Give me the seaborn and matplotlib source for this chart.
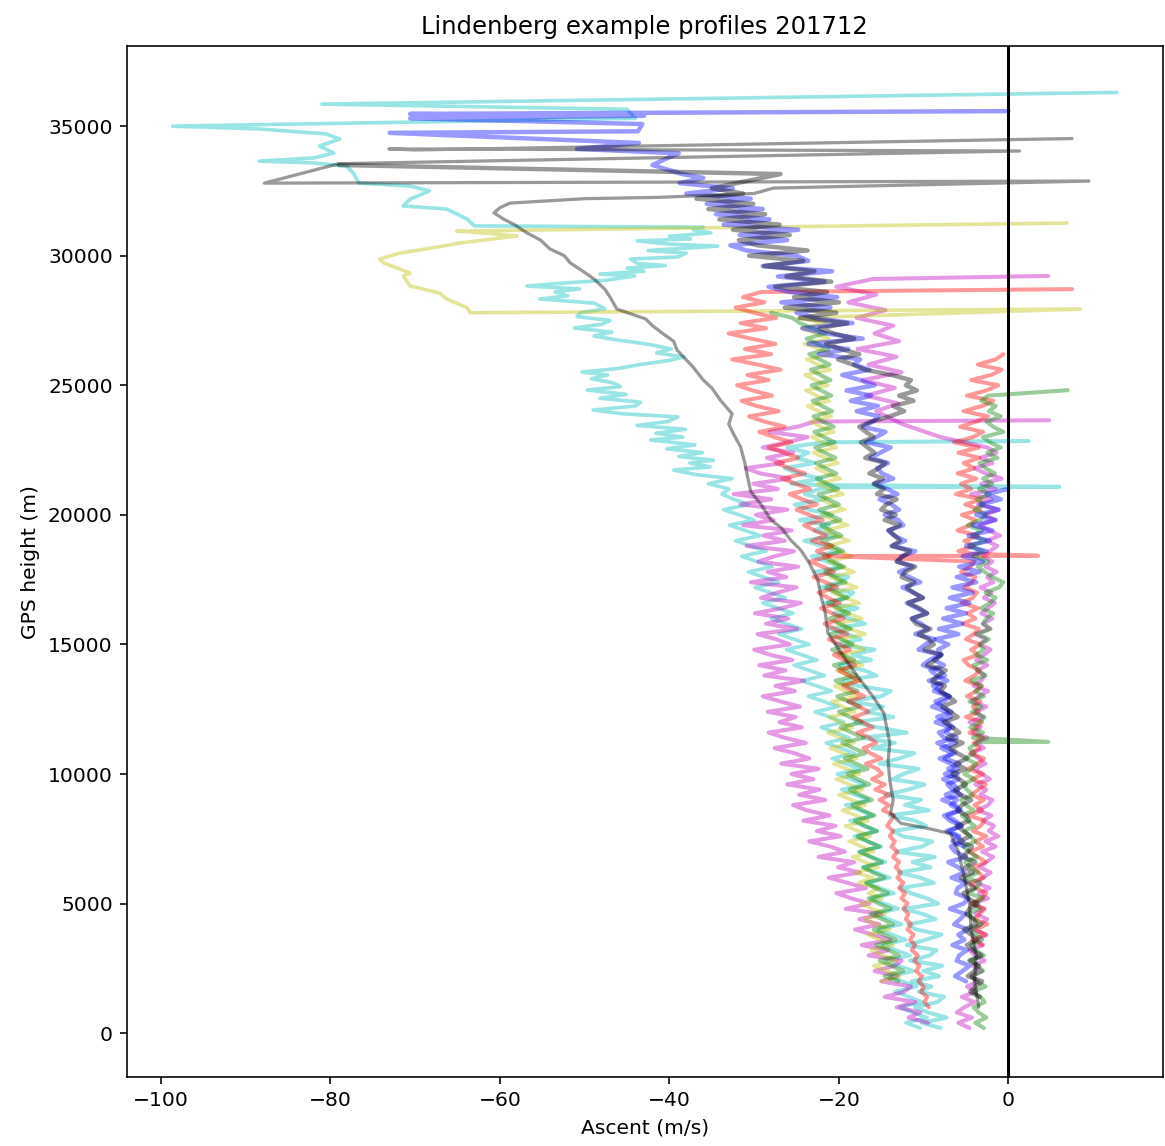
import seaborn as sns
import matplotlib.pyplot as plt

sns.set_style("ticks", {"axes.edgecolor": "black", "xtick.color": "black",
                        "ytick.color": "black", "text.color": "black",
                        "axes.labelcolor": "black"})
plt.rcParams["font.family"] = ["DejaVu Sans"]
plt.rcParams.update({"xtick.labelsize": 10, "ytick.labelsize": 10,
                     "axes.labelsize": 10, "axes.titlesize": 12,
                     "axes.linewidth": 0.8, "xtick.major.size": 3.5,
                     "ytick.major.size": 3.5, "xtick.major.width": 0.8,
                     "ytick.major.width": 0.8})

grid_h = [0, 200, 400, 600, 800, 1000, 1200, 1400, 1600, 1800,
          2000, 2200, 2400, 2600, 2800, 3000, 3200, 3400, 3600, 3800,
          4000, 4200, 4400, 4600, 4800, 5000, 5200, 5400, 5600, 5800,
          6000, 6200, 6400, 6600, 6800, 7000, 7200, 7400, 7600, 7800,
          8000, 8200, 8400, 8600, 8800, 9000, 9200, 9400, 9600, 9800,
          10000, 10200, 10400, 10600, 10800, 11000, 11200, 11400, 11600, 11800,
          12000, 12200, 12400, 12600, 12800, 13000, 13200, 13400, 13600, 13800,
          14000, 14200, 14400, 14600, 14800, 15000, 15200, 15400, 15600, 15800,
          16000, 16200, 16400, 16600, 16800, 17000, 17200, 17400, 17600, 17800,
          18000, 18200, 18400, 18600, 18800, 19000, 19200, 19400, 19600, 19800,
          20000, 20200, 20400, 20600, 20800, 21000, 21200, 21400, 21600, 21800,
          22000, 22200, 22400, 22600, 22800, 23000, 23200, 23400, 23600, 23800,
          24000, 24200, 24400, 24600, 24800, 25000, 25200, 25400, 25600, 25800,
          26000, 26200, 26400, 26600, 26800, 27000, 27200, 27400, 27600, 27800,
          28000, 28200, 28400, 28600, 28800, 29000, 29200, 29400, 29600, 29800,
          30000, 30200, 30400, 30600, 30800, 31000, 31200, 31400, 31600, 31800,
          32000, 32200, 32400, 32600, 32800, 33000]

# ---- ascent (m/s) per profile ----

# cyan, far-left one: lower part on the grid from 200 m, then the upper part
cyan_a_x = [-10.4, -12.1, -9.6, -11.3, -12.8, -10.2, -11.7, -13.4, -10.8, -12.5,
            -13.8, -11.2, -12.9, -14.3, -11.6, -13.2, -14.8, -12.1, -13.7, -15.3,
            -12.6, -14.1, -15.7, -13.0, -14.6, -16.2, -13.5, -15.1, -16.7, -14.0,
            -15.6, -17.2, -14.5, -16.1, -17.7, -15.0, -16.6, -18.2, -15.5, -17.1,
            -18.7, -16.0, -17.6, -19.2, -16.5, -18.1, -19.7, -17.0, -18.6, -20.2,
            -17.6, -19.2, -20.8, -18.2, -19.8, -21.5, -18.8, -20.4, -22.1, -19.4,
            -21.1, -22.8, -20.1, -21.8, -23.6, -20.9, -22.6, -24.4, -21.7, -23.5,
            -25.3, -22.6, -24.4, -26.2, -23.5, -25.3, -27.1, -24.4, -26.2, -28.0,
            -25.4, -27.2, -29.0, -26.3, -28.1, -29.9, -27.1, -28.9, -30.7, -27.9,
            -29.7, -31.5, -28.6, -30.4, -32.2, -29.3, -31.1, -32.9, -30.0, -31.8,
            -33.6, -30.6, -32.4, -33.8]
cyan_a_top_h = [21000, 21200, 21400, 21550, 21730, 21850, 22000, 22110, 22250, 22400, 22550,
                22700, 22890, 23000, 23150, 23300, 23450, 23600, 23780, 23900, 24045, 24200,
                24350, 24500, 24650, 24815, 24950, 25090, 25250, 25400, 25510, 25650, 25800,
                25950, 26090, 26250, 26400, 26590, 26750, 26900, 27050, 27210, 27350, 27500,
                27650, 27800, 27950, 28170, 28330, 28450, 28600, 28720, 28830, 28950, 29050,
                29220, 29290, 29400, 29520, 29620, 29700, 29870, 29950, 30100, 30200, 30370,
                30450, 30570, 30650, 30750, 30880, 31000, 31100, 31150, 31420, 31800, 31920,
                32180, 32500, 32690, 32800, 33190, 33460, 33580, 33650, 33770, 33960, 34230,
                34500, 34700, 34890, 35000, 35300, 35650, 35850, 36300]
cyan_a_top_x = [-33.0, -35.4, -32.6, -36.8, -39.5, -35.2, -37.6, -34.8, -38.9, -36.1, -40.3,
                -37.0, -42.2, -38.4, -41.6, -38.1, -43.8, -40.2, -39.0, -45.5, -49.0, -44.0,
                -43.4, -48.2, -45.1, -49.7, -45.8, -46.6, -49.2, -47.3, -50.3, -46.0, -43.5,
                -40.2, -38.3, -41.5, -39.8, -42.6, -46.2, -48.9, -46.8, -51.2, -48.0, -47.0,
                -50.9, -50.5, -47.6, -48.9, -55.3, -52.0, -53.5, -50.6, -56.8, -52.3, -47.5,
                -44.1, -48.2, -43.0, -45.0, -40.5, -43.8, -44.6, -39.0, -38.0, -42.5, -34.3,
                -40.0, -43.8, -37.5, -40.0, -35.1, -37.2, -36.0, -63.0, -63.9, -66.3, -71.4,
                -70.6, -68.3, -70.6, -76.6, -77.3, -78.1, -82.0, -88.4, -82.0, -79.6, -81.3,
                -78.9, -80.5, -88.4, -98.6, -44.0, -45.0, -81.0, 12.8]

# cyan, inside the bundle, grid from 200 m; spikes at 21.1 and 22.85 km
cyan_b_x = [-8.0, -10.2, -7.3, -9.5, -11.0, -8.4, -7.6, -10.6, -9.1, -11.4,
            -8.2, -10.0, -7.8, -11.6, -9.3, -8.5, -12.0, -9.8, -7.9, -10.9,
            -11.8, -8.6, -10.1, -12.3, -8.3, -9.6, -11.5, -12.7, -8.8, -10.4,
            -12.9, -9.2, -11.3, -8.7, -13.2, -10.2, -9.0, -12.5, -13.6, -9.7,
            -11.0, -14.0, -9.4, -12.2, -10.3, -14.5, -11.8, -9.9, -13.7, -12.4,
            -10.6, -15.2, -12.9, -11.1, -16.0, -13.4, -17.2, -12.0, -15.5, -18.1,
            -13.6, -16.8, -14.8, -18.9, -15.0, -13.9, -17.7, -19.4, -15.6, -17.0,
            -19.9, -16.2, -18.4, -15.8, -20.3, -17.4, -19.1, -21.0, -16.9, -18.8,
            -20.6, -17.8, -21.7, -19.2, -18.3, -22.1, -20.0, -18.9, -22.8, -19.7,
            -21.4, -23.2, -19.9, -22.0, -24.1, -20.6, -22.9, -21.2, -24.6, -20.8,
            -23.5, -25.2, -21.7, -24.0, -22.3]
cyan_b_spike_h = [21070, 21080, 21150]
cyan_b_spike_x = [-21.0, 6.0, -22.5]
cyan_b_up_x = [-25.6, -22.1, -24.8, -26.4, -22.9, -25.0, -23.6, -26.1, -21.8]   # grid from 21200 m
cyan_b_end_h = [22850]
cyan_b_end_x = [2.4]

# black, smooth trace
black_a_h = [1000, 2000, 3000, 4000, 5000, 6000, 7000, 7450, 7700, 7900, 8100, 8490, 9000, 9765,
             10500, 11200, 12350, 13000, 13600, 14130, 14800, 15440, 16200, 16830, 17500,
             18200, 18640, 19030, 19500, 19800, 20400, 20900, 21500, 22000, 22620, 23100,
             23500, 23900, 24430, 24900, 25200, 25700, 26360, 26700, 27000, 27300, 27560,
             27940, 28400, 28700, 29100, 29400, 29720, 30000, 30260, 30600, 30880, 31200,
             31400, 31650, 31850, 32030, 32200, 32250, 32400, 32610, 32880, 32800, 33550,
             34040, 34120, 34080, 34520]
black_a_x = [-3.5, -4.0, -3.8, -4.4, -4.6, -5.2, -5.9, -6.5, -6.8, -9.5, -12.7, -13.9, -13.6,
             -14.0, -14.2, -14.0, -14.7, -16.0, -17.4, -18.6, -20.0, -21.3, -21.6, -22.1, -22.5,
             -23.6, -24.5, -25.7, -26.8, -28.0, -29.2, -30.4, -30.8, -31.1, -31.6, -32.4, -33.0,
             -32.6, -34.0, -35.0, -36.0, -37.2, -39.1, -39.5, -40.8, -42.0, -42.8, -46.2, -47.0,
             -47.6, -48.9, -50.2, -51.7, -52.4, -54.1, -55.2, -56.8, -58.3, -59.5, -60.7, -60.0,
             -58.8, -50.0, -41.4, -30.0, -27.7, 9.5, -87.8, -79.0, 1.3, -73.1, -70.0, 7.5]

# black, noisy trace in the right bundle, grid from 1400 m
black_b_x = [-3.4, -4.5, -3.9, -3.1, -4.8, -4.0, -3.5, -4.6, -3.2, -4.2,
             -4.9, -3.7, -4.4, -5.2, -3.8, -4.1, -5.0, -4.6, -3.6, -4.8,
             -5.3, -4.0, -4.7, -5.6, -4.2, -5.1, -3.9, -5.4, -4.8, -4.3,
             -5.8, -4.5, -5.3, -6.1, -4.6, -5.0, -6.0, -5.5, -4.4, -5.7,
             -6.3, -5.0, -5.8, -6.6, -5.1, -6.2, -4.9, -6.0, -6.8, -5.4,
             -7.2, -5.8, -6.6, -7.6, -6.0, -6.9, -7.8, -6.3, -7.1, -8.0,
             -7.5, -9.0, -8.3, -7.4, -9.6, -8.6, -7.9, -9.9, -8.8, -9.4,
             -10.6, -9.2, -10.9, -11.4, -9.6, -10.5, -11.8, -10.1, -11.2, -12.0,
             -11.1, -12.6, -12.2, -11.0, -13.2, -12.4, -11.6, -13.7, -12.8, -13.4,
             -14.1, -12.8, -14.6, -13.3, -15.0, -14.4, -13.2, -15.5, -14.7, -15.9,
             -14.8, -16.4, -15.3, -14.5, -16.9, -15.8, -16.6, -17.4, -15.9, -16.8,
             -17.6, -16.2, -14.0, -12.3, -13.6, -11.2, -12.9, -10.8, -12.1, -11.5,
             -13.8, -16.9, -18.4, -20.1, -17.6, -19.8, -21.5, -18.2, -20.6, -22.3,
             -19.0, -24.6, -20.3, -26.4, -20.0, -25.3, -21.4, -27.5, -20.9, -26.2,
             -22.9, -28.8, -24.2, -30.6, -23.7, -29.6, -31.8, -25.8, -32.5, -27.0,
             -34.1, -28.7, -35.4, -30.1, -36.8, -31.3, -35.0]
black_b_top_h = [33150, 33500]
black_b_top_x = [-26.9, -79.0]

# blue, noisy trace in the right bundle, grid from 2000 m, burst near 35.5 km
blue_a_x = [-5.0, -6.3, -5.4, -4.6, -6.1, -5.8, -4.9, -6.6, -5.2, -5.9,
            -4.8, -6.4, -5.7, -5.1, -6.9, -5.3, -4.7, -6.2, -6.0, -5.0,
            -6.7, -5.2, -5.9, -7.1, -5.0, -6.3, -6.8, -5.4, -6.1, -7.3,
            -5.5, -6.9, -7.6, -5.8, -6.2, -7.8, -5.6, -6.6, -7.2, -5.9,
            -7.5, -6.0, -6.8, -8.1, -6.3, -7.0, -8.4, -6.1, -7.4, -6.9,
            -8.6, -6.8, -7.3, -9.0, -7.6, -6.9, -8.8, -7.9, -9.4, -7.5,
            -8.2, -10.1, -9.3, -8.0, -10.6, -9.8, -8.7, -11.0, -9.5, -10.3,
            -11.4, -9.6, -10.8, -12.0, -10.1, -11.2, -12.5, -10.4, -11.7, -12.9,
            -11.3, -13.1, -12.6, -11.0, -13.8, -12.2, -13.5, -14.2, -12.4, -13.0,
            -14.6, -12.9, -13.8, -15.2, -13.1, -14.3, -15.8, -13.6, -14.9, -15.5,
            -14.2, -16.3, -15.1, -13.9, -16.8, -15.6, -14.5, -17.2, -16.0, -15.3,
            -17.9, -15.4, -18.6, -16.2, -19.1, -15.8, -17.5, -19.6, -16.4, -18.2,
            -17.5, -22.4, -18.9, -23.6, -17.2, -21.5, -24.3, -18.4, -22.9, -25.0,
            -21.0, -26.8, -20.2, -25.9, -28.3, -21.7, -27.2, -20.8, -29.0, -23.6,
            -25.0, -30.9, -32.8, -26.1, -31.7, -24.8, -33.6, -28.2, -34.5, -29.0,
            -35.6, -30.4, -38.0, -32.5, -38.8]
blue_a_top_h = [33000, 33150, 33500, 33800, 33950, 34120, 34350, 34740, 34800, 35080, 35300,
                35400, 35470, 35580]
blue_a_top_x = [-36.0, -38.5, -42.0, -40.0, -38.9, -50.9, -43.6, -73.0, -43.7, -43.2, -70.6,
                -43.0, -70.6, 0.0]

# blue, right-hand branch, grid from 7200 m
blue_b_x = [-5.2, -6.6, -5.8, -7.0, -5.5, -6.3, -7.2, -5.6, -6.8, -6.1,
            -7.4, -5.9, -6.5, -7.7, -6.0, -7.1, -5.8, -7.5, -6.6, -7.9,
            -6.2, -7.6, -8.2, -6.5, -7.3, -8.4, -6.7, -7.8, -8.6, -7.0,
            -8.1, -8.9, -7.2, -8.5, -9.2, -7.6, -8.8, -7.9, -8.3, -7.1,
            -8.6, -5.9, -8.2, -5.4, -7.7, -5.0, -7.3, -4.6, -6.9, -4.2,
            -6.6, -3.8, -6.1, -3.4, -5.8, -3.0, -5.4, -2.6, -5.0, -2.2,
            -4.7, -1.9, -4.2, -1.5, -3.8, -1.2, -3.3, -0.9, -2.6, 0.0]

# magenta, left edge of the bundle, grid from 400 m
magenta_a_x = [-9.5, -11.8, -10.4, -13.2, -11.0, -14.6, -12.3, -11.5, -15.0, -13.1,
               -15.8, -13.4, -12.6, -16.5, -14.2, -17.3, -13.9, -16.0, -18.1, -15.2,
               -17.6, -15.0, -19.2, -16.4, -18.5, -20.3, -16.8, -19.0, -21.2, -17.5,
               -20.1, -18.2, -22.4, -19.3, -21.0, -23.5, -19.8, -22.6, -20.4, -24.2,
               -21.1, -23.8, -25.4, -21.6, -24.7, -22.3, -26.1, -23.0, -25.6, -22.4,
               -26.8, -23.5, -25.2, -27.6, -23.9, -26.4, -28.3, -24.4, -27.0, -25.1,
               -28.4, -24.6, -26.9, -29.0, -25.2, -27.5, -24.1, -28.8, -26.3, -29.4,
               -25.5, -28.1, -30.0, -25.8, -27.4, -29.6, -24.9, -28.6, -26.0, -29.9,
               -26.7, -24.5, -29.2, -27.3, -25.0, -30.4, -26.2, -28.4, -24.8, -29.5,
               -27.6, -25.3, -30.9, -26.4, -28.9, -25.6, -31.3, -27.7, -29.8, -26.1,
               -31.6, -28.0, -32.4, -27.2, -30.1, -25.8, -29.3, -31.0, -26.6, -28.5,
               -25.4, -29.0, -26.1, -23.7, -28.2, -24.9, -22.8]
magenta_a_end_h = [23650]
magenta_a_end_x = [4.8]

# magenta, right side from 200 m, then the upper cluster near -15
magenta_b_x = [-4.6, -5.9, -4.3, -6.1, -5.2, -4.0, -5.5, -3.8, -4.9, -3.6,
               -4.4, -3.1, -4.2, -2.8, -3.9, -4.6, -3.0, -3.7, -2.6, -4.1,
               -3.3, -2.5, -3.9, -2.9, -4.3, -2.4, -3.5, -2.2, -3.8, -3.0,
               -2.1, -3.4, -2.6, -1.8, -3.1, -1.5, -2.7, -1.2, -2.3, -1.7,
               -3.0, -2.0, -3.6, -2.4, -1.9, -3.3, -2.6, -3.9, -2.2, -3.1,
               -4.0, -2.7, -3.5, -4.4, -2.9, -3.8, -2.5, -4.2, -3.3, -4.6,
               -3.0, -3.9, -2.6, -4.3, -3.5, -2.4, -4.1, -3.2, -2.8, -3.7,
               -2.5, -3.8, -2.9, -2.1, -3.4, -2.6, -3.9, -2.2, -3.0, -1.9,
               -3.2, -2.4, -1.6, -2.9, -2.0, -3.3, -1.8, -2.5, -1.4, -2.7,
               -1.9, -3.0, -2.2, -1.3, -2.6, -1.0, -2.3, -3.4, -1.6, -2.8,
               -1.1, -3.6, -2.0, -4.4, -1.5, -3.2, -0.8, -2.7, -4.0, -1.9,
               -3.3, -1.4, -2.5]
magenta_b_top_h = [23000, 23500, 24000, 24300, 24600, 24900, 25200, 25500, 25800, 26100,
                   26400, 26700, 27000, 27300, 27600, 27900, 28200, 28500, 28800, 29100, 29220]
magenta_b_top_x = [-8.0, -12.5, -15.6, -13.0, -16.8, -13.4, -17.2, -12.6, -16.5, -13.2,
                   -17.8, -12.9, -15.8, -13.6, -17.9, -14.5, -18.9, -15.6, -20.3, -16.0, 4.7]

# red, right side, grid from 3400 m, spike at 18.4 km, grid again from 18600 m
red_a_x = [-3.1, -4.3, -2.7, -3.9, -2.5, -4.0, -3.4, -2.8, -4.4, -3.2,
           -2.6, -3.8, -4.5, -2.9, -3.5, -4.1, -2.7, -3.6, -4.6, -3.0,
           -3.9, -2.6, -4.2, -3.3, -2.8, -4.7, -3.1, -4.0, -2.9, -4.4,
           -3.5, -2.7, -4.3, -3.0, -4.8, -3.6, -2.9, -4.5, -3.4, -4.1,
           -3.0, -4.6, -3.7, -3.1, -5.0, -3.5, -4.2, -3.3, -4.9, -3.8,
           -3.2, -5.1, -4.0, -3.4, -4.7, -5.3, -3.6, -4.4, -3.3, -5.0,
           -4.1, -3.5, -5.4, -3.9, -4.8, -3.6, -5.5, -4.2, -3.7, -5.2,
           -4.3, -3.9, -5.6, -4.5, -4.0]
red_a_spike_h = [18410, 18420, 18500]
red_a_spike_x = [-21.3, 3.5, -4.3]
red_a_up_x = [-5.9, -4.1, -5.2, -3.6, -6.0, -4.6, -3.9, -5.5, -3.3, -5.1,
              -3.2, -6.2, -4.4, -5.6, -3.8, -6.0, -4.0, -5.3, -3.4, -5.9,
              -3.5, -6.4, -4.2, -3.0, -5.7, -3.8, -2.4, -5.3, -3.1, -1.8,
              -4.9, -2.6, -1.2, -4.4, -2.0, -0.8, -3.6, -1.5, -0.6]

# red, inside the bundle, grid from 1000 m, spike at 28.7 km
red_b_x = [-9.4, -9.9, -9.6, -10.3, -10.0, -10.6, -10.2, -10.9, -10.5, -11.1,
           -10.7, -11.4, -11.0, -11.6, -11.2, -11.9, -11.5, -12.1, -11.8, -12.4,
           -11.9, -12.6, -12.2, -12.9, -12.4, -13.1, -12.7, -13.3, -12.9, -13.6,
           -13.1, -13.8, -13.4, -14.0, -13.6, -14.3, -13.9, -13.5, -14.8, -14.1,
           -15.2, -14.0, -15.7, -14.6, -16.1, -14.9, -15.5, -16.8, -15.0, -16.3,
           -17.1, -15.6, -16.4, -17.8, -16.0, -17.2, -18.3, -16.5, -17.6, -18.9,
           -17.0, -18.4, -19.5, -17.6, -18.8, -20.0, -18.1, -19.3, -20.6, -18.7,
           -19.9, -21.2, -19.0, -20.5, -21.7, -19.4, -20.8, -22.1, -19.9, -21.3,
           -22.4, -20.2, -21.6, -23.0, -20.6, -21.9, -23.4, -21.1, -22.6, -20.8,
           -23.2, -21.5, -22.9, -24.1, -21.9, -23.5, -25.0, -22.6, -24.3, -25.8,
           -23.4, -25.1, -26.7, -24.0, -25.9, -27.4, -24.8, -26.5, -28.3, -25.6,
           -27.6, -29.4, -26.4, -28.8, -30.6, -27.1, -29.7, -31.5, -27.9, -30.2,
           -32.0, -28.3, -30.8, -26.9, -29.6, -32.6, -28.0, -31.1, -27.5, -30.4,
           -33.0, -28.6, -31.6, -27.4, -30.0, -32.2, -28.8, -31.3, -29.2]
red_b_end_h = [28710]
red_b_end_x = [7.5]

# yellow, bundle on the grid from 2000 m, then the loop out to -74 m/s
yellow_a_x = [-15.0, -12.8, -14.3, -15.9, -13.2, -14.8, -16.2, -13.6, -15.1, -16.6,
              -14.0, -15.7, -17.0, -14.5, -16.1, -17.4, -14.9, -16.5, -15.3, -17.7,
              -16.0, -18.1, -15.4, -16.9, -18.4, -15.9, -17.3, -18.8, -16.3, -17.8,
              -19.2, -16.6, -18.0, -19.6, -16.9, -18.5, -20.0, -17.2, -18.8, -20.3,
              -17.6, -19.1, -20.6, -17.9, -19.5, -21.0, -18.2, -19.8, -21.3, -18.4,
              -20.0, -21.1, -18.1, -19.6, -20.8, -17.8, -19.3, -20.5, -17.5, -18.9,
              -20.3, -17.2, -18.6, -20.0, -17.0, -18.4, -19.8, -16.9, -18.7, -20.2,
              -17.3, -19.0, -20.5, -17.6, -19.3, -20.8, -17.9, -19.5, -21.0, -18.2,
              -19.8, -21.2, -18.5, -20.1, -21.5, -18.8, -20.4, -21.7, -19.0, -20.6,
              -22.0, -19.3, -20.9, -22.2, -19.5, -21.1, -22.5, -19.8, -21.4, -22.7,
              -20.1, -21.6, -23.0, -20.3, -21.9, -23.2, -20.6, -22.1, -23.4, -20.9,
              -22.4, -23.7, -21.1, -22.6, -23.9, -21.3, -22.8, -24.0, -21.0, -22.5,
              -23.8, -20.8, -22.3, -24.1, -21.2, -22.7, -24.4, -21.6, -24.8]
yellow_a_top_h = [27940, 27800, 28000, 28330, 28560, 28830, 29220, 29330, 29720, 29870, 30100,
                  30300, 30490, 30760, 30850, 30950, 31260]
yellow_a_top_x = [8.5, -63.5, -63.9, -66.3, -67.1, -70.6, -71.4, -70.6, -73.7, -74.2, -71.8,
                  -68.0, -64.7, -58.0, -61.0, -65.1, 6.9]

# green, right edge, grid from 200 m, spike at 11.2 km, grid again from 11400 m
green_a_x = [-2.9, -3.9, -2.6, -3.5, -4.1, -2.8, -3.3, -4.2, -2.7, -3.8,
             -4.3, -3.0, -3.6, -4.5, -2.9, -3.9, -4.4, -3.1, -3.7, -4.6,
             -3.2, -4.0, -4.8, -3.4, -4.2, -3.0, -4.7, -3.8, -3.3, -4.9,
             -3.6, -4.4, -5.1, -3.7, -4.6, -5.3, -3.9, -4.5, -5.2, -4.0,
             -4.8, -5.5, -4.1, -5.0, -5.6, -4.2, -4.9, -5.4, -4.0, -5.2,
             -4.4, -3.8, -5.1, -4.0, -4.6, -3.7]
green_a_spike_h = [11230, 11240]
green_a_spike_x = [-3.6, 4.7]
green_a_up_x = [-4.2, -3.0, -4.5, -3.4, -2.8, -4.3, -3.2, -4.6, -2.9, -3.9,
                -3.1, -4.4, -2.7, -3.6, -4.1, -2.5, -3.8, -2.9, -3.4, -2.3,
                -3.7, -2.1, -3.0, -2.6, -1.8, -3.2, -2.2, -1.5, -2.7, -1.1,
                -0.6, -1.9, -2.8, -3.6, -2.4, -4.1, -3.0, -4.6, -2.7, -4.2,
                -3.1, -4.8, -3.4, -2.6, -4.0, -2.9, -3.7, -2.2, -3.5, -1.9,
                -3.0, -1.6, -2.7, -3.4, -1.3, -2.5, -0.9, -2.2, -3.0, -0.6,
                -1.8, -2.6, -0.9, -2.3, -1.5, -3.2, -2.4]
green_a_end_h = [24810]
green_a_end_x = [7.0]

# green, inside the bundle, grid from 2000 m
green_b_x = [-13.0, -14.6, -12.4, -13.8, -15.2, -12.9, -14.1, -15.6, -13.3, -14.7,
             -15.9, -13.6, -14.9, -16.2, -13.9, -15.3, -16.5, -14.2, -15.7, -16.8,
             -14.6, -16.0, -17.1, -14.9, -16.3, -17.5, -15.2, -16.6, -17.8, -15.5,
             -16.9, -18.1, -15.8, -17.2, -18.4, -16.1, -17.5, -18.7, -16.4, -17.8,
             -19.0, -16.6, -18.0, -19.3, -16.9, -18.3, -19.6, -17.1, -18.5, -19.8,
             -17.3, -18.7, -20.0, -17.5, -18.9, -20.2, -17.8, -19.1, -20.4, -18.0,
             -19.3, -20.6, -18.2, -19.5, -20.8, -18.4, -19.7, -21.0, -18.6, -19.9,
             -21.1, -18.8, -20.1, -21.3, -19.0, -20.3, -21.5, -19.2, -20.5, -21.6,
             -19.4, -20.7, -21.8, -19.5, -20.8, -22.0, -19.7, -21.0, -22.1, -19.8,
             -21.1, -22.3, -20.0, -21.3, -22.4, -20.1, -21.4, -22.6, -20.3, -21.6,
             -22.7, -20.4, -21.7, -22.8, -20.5, -21.8, -22.9, -20.6, -21.9, -23.0,
             -20.8, -22.0, -23.1, -20.9, -22.1, -23.2, -21.0, -22.2, -23.3, -21.1,
             -22.3, -23.5, -21.2, -22.6, -23.8, -21.6, -23.1, -24.6, -25.5, -28.0]


def on_grid(start, xs):
    i = grid_h.index(start)
    return grid_h[i:i + len(xs)], xs


# colour, line width, pieces of the record
profiles = [
    ("c", 1.8, [on_grid(200, cyan_a_x), (cyan_a_top_h, cyan_a_top_x)]),
    ("c", 2.0, [on_grid(200, cyan_b_x), (cyan_b_spike_h, cyan_b_spike_x),
                on_grid(21200, cyan_b_up_x), (cyan_b_end_h, cyan_b_end_x)]),
    ("m", 2.0, [on_grid(400, magenta_a_x), (magenta_a_end_h, magenta_a_end_x)]),
    ("m", 2.0, [on_grid(200, magenta_b_x), (magenta_b_top_h, magenta_b_top_x)]),
    ("y", 1.8, [on_grid(2000, yellow_a_x), (yellow_a_top_h, yellow_a_top_x)]),
    ("g", 2.0, [on_grid(2000, green_b_x)]),
    ("r", 2.0, [on_grid(1000, red_b_x), (red_b_end_h, red_b_end_x)]),
    ("r", 2.0, [on_grid(3400, red_a_x), (red_a_spike_h, red_a_spike_x),
                on_grid(18600, red_a_up_x)]),
    ("g", 2.0, [on_grid(200, green_a_x), (green_a_spike_h, green_a_spike_x),
                on_grid(11400, green_a_up_x), (green_a_end_h, green_a_end_x)]),
    ("b", 2.2, [on_grid(7200, blue_b_x)]),
    ("b", 2.2, [on_grid(2000, blue_a_x), (blue_a_top_h, blue_a_top_x)]),
    ("k", 2.2, [on_grid(1400, black_b_x), (black_b_top_h, black_b_top_x)]),
    ("k", 1.6, [(black_a_h, black_a_x)]),
]

fig, ax = plt.subplots(figsize=(8, 7.87), dpi=145.625)
fig.subplots_adjust(left=0.109, right=0.998, bottom=0.060, top=0.960)

for col, lw, pieces in profiles:
    h = [v for ph, px in pieces for v in ph]
    x = [v for ph, px in pieces for v in px]
    sns.lineplot(x=x, y=h, sort=False, estimator=None, color=col,
                 alpha=0.4, linewidth=lw, ax=ax)

ax.axvline(0, color="black", linewidth=1.5)
ax.set_xlim(-104, 18.2)
ax.set_ylim(-1700, 38100)
ax.set_xticks([-100, -80, -60, -40, -20, 0])
ax.set_yticks([0, 5000, 10000, 15000, 20000, 25000, 30000, 35000])
ax.set_title("Lindenberg example profiles 201712")
ax.set_xlabel("Ascent (m/s)")
ax.set_ylabel("GPS height (m)")

fig.savefig("out.png", dpi=145.625)
plt.close(fig)
